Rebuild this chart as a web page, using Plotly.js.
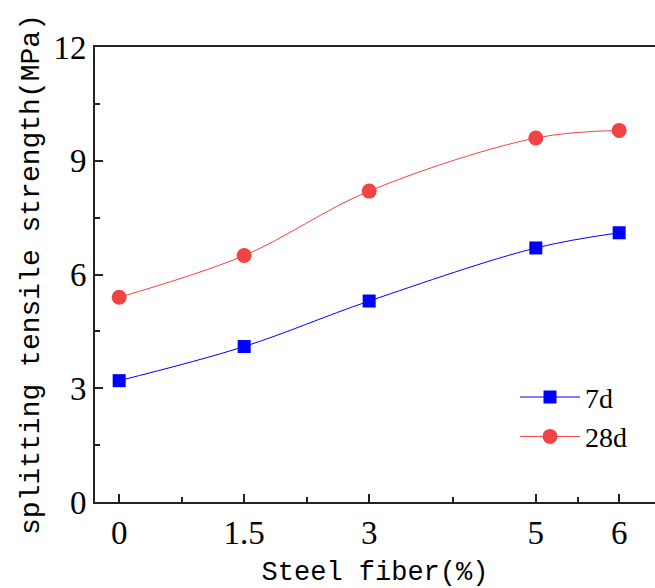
<!DOCTYPE html>
<html><head><meta charset="utf-8">
<script src="https://cdn.plot.ly/plotly-3.0.1.min.js"></script>
<style>body{margin:0;padding:0;background:#fff}#chart{width:655px;height:588px}</style>
</head><body><div id="chart"></div>
<script>
const fiber = [0, 1.5, 3, 5, 6];
const strength7d = [3.2, 4.1, 5.3, 6.7, 7.1];
const strength28d = [5.4, 6.5, 8.2, 9.6, 9.8];
const xTickVals = [0, 1.5, 3, 5, 6];
const xTickText = ['0', '1.5', '3', '5', '6'];
const xMinorVals = [0.75, 2.25, 4, 5.5];
const yTickVals = [0, 3, 6, 9, 12];

const serif = 'Liberation Serif, serif';
const mono = 'Liberation Mono, monospace';

const traces = [
  {x: fiber, y: strength7d, name: '7d', mode: 'lines+markers', type: 'scatter',
   line: {shape: 'spline', color: '#0000ff', width: 1},
   marker: {symbol: 'square', size: 13, color: '#0000ff'}},
  {x: fiber, y: strength28d, name: '28d', mode: 'lines+markers', type: 'scatter',
   line: {shape: 'spline', color: '#f04444', width: 1},
   marker: {symbol: 'circle', size: 15, color: '#f04444'}}
];

const layout = {
  width: 655, height: 588,
  margin: {l: 95, r: 0, t: 47, b: 86},
  paper_bgcolor: '#fff', plot_bgcolor: '#fff',
  showlegend: true,
  legend: {x: 0.75, y: 0.285, xanchor: 'left', yanchor: 'top',
           font: {family: serif, size: 28, color: '#000'},
           bgcolor: 'rgba(0,0,0,0)', tracegroupgap: 0, itemwidth: 60},
  xaxis: {
    range: [-0.29, 6.43], tickmode: 'array', tickvals: xTickVals, ticktext: xTickText,
    ticks: 'inside', ticklen: 8, tickwidth: 2, tickcolor: '#222',
    showline: true, linecolor: '#222', linewidth: 2, mirror: true,
    showgrid: false, zeroline: false,
    tickfont: {family: serif, size: 33, color: '#000'},
    minor: {tickmode: 'array', tickvals: xMinorVals, ticks: 'inside', ticklen: 5, tickwidth: 2, tickcolor: '#222', showgrid: false},
    title: {text: 'Steel fiber(%)', font: {family: mono, size: 27, color: '#000'}, standoff: 14}
  },
  yaxis: {
    range: [0, 12], tickmode: 'array', tickvals: yTickVals,
    ticks: 'inside', ticklen: 8, tickwidth: 2, tickcolor: '#222',
    showline: true, linecolor: '#222', linewidth: 2, mirror: false,
    showgrid: false, zeroline: false,
    tickfont: {family: serif, size: 33, color: '#000'},
    minor: {tickmode: 'array', tickvals: [1.5, 4.5, 7.5, 10.5], ticks: 'inside', ticklen: 5, tickwidth: 2, tickcolor: '#222', showgrid: false},
    title: {text: 'splitting tensile strength(MPa)', font: {family: mono, size: 28, color: '#000'}, standoff: 6}
  }
};

Plotly.newPlot('chart', traces, layout, {displayModeBar: false, staticPlot: true});
</script></body></html>
